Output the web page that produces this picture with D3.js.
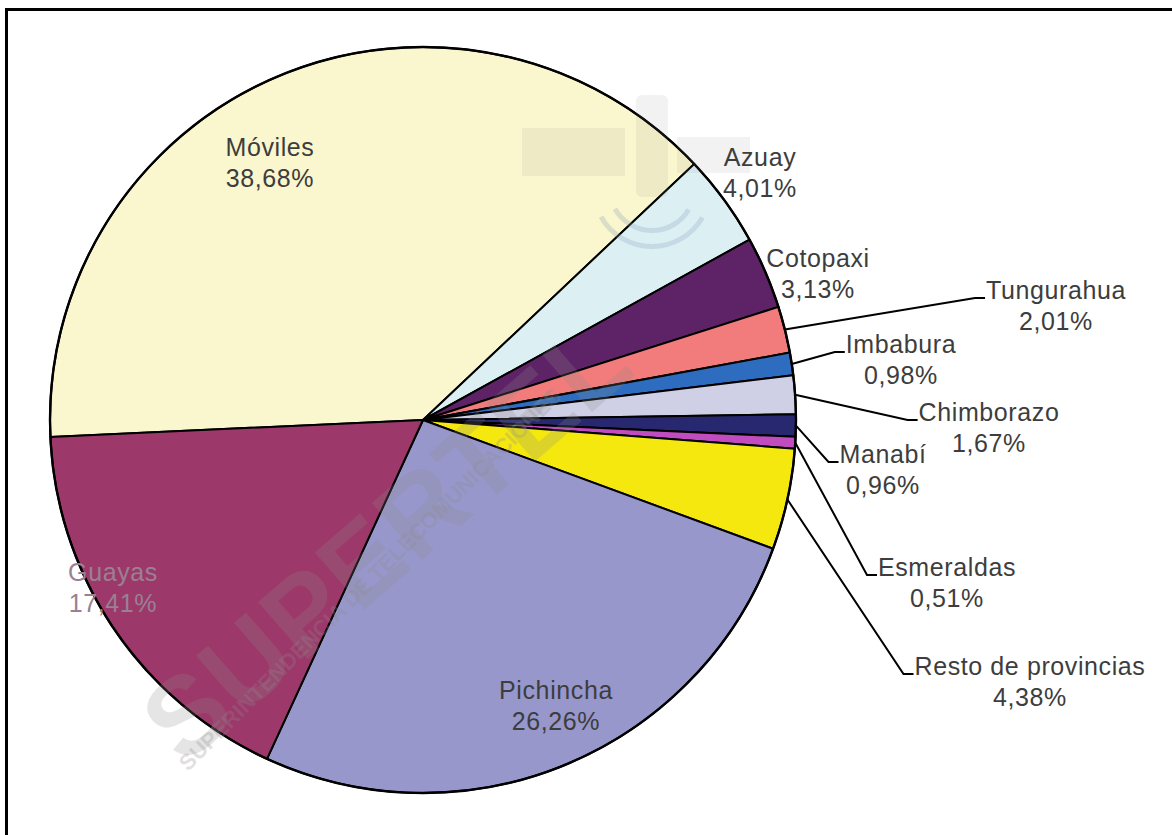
<!DOCTYPE html>
<html>
<head>
<meta charset="utf-8">
<script src="https://cdn.jsdelivr.net/npm/d3@7"></script>
<style>
  html, body { margin: 0; padding: 0; background: #ffffff; }
  svg { display: block; }
</style>
</head>
<body>
<svg id="chart" width="1172" height="835"></svg>
<script>
// ---- data ----
const categories = ["Móviles", "Azuay", "Cotopaxi", "Tungurahua", "Imbabura", "Chimborazo",
                    "Manabí", "Esmeraldas", "Resto de provincias", "Pichincha", "Guayas"];
const shares = [38.68, 4.01, 3.13, 2.01, 0.98, 1.67, 0.96, 0.51, 4.38, 26.26, 17.41];

// ---- styles ----
const sliceColors = ["#FAF6CE", "#DCF0F4", "#5E2366", "#F27B7B", "#2E6CBF", "#CFCFE5",
                     "#27286F", "#C04CC0", "#F4E80F", "#9897CB", "#9D386A"];

// label placement: centre x, baseline of the first line, leader line or not
const labelLayout = {
  "Móviles":             { x: 270,  y: 156, leader: false },
  "Azuay":               { x: 760,  y: 166, leader: false },
  "Cotopaxi":            { x: 818,  y: 267, leader: false },
  "Tungurahua":          { x: 1056, y: 299, leader: true },
  "Imbabura":            { x: 901,  y: 353, leader: true },
  "Chimborazo":          { x: 989,  y: 421, leader: true },
  "Manabí":              { x: 883,  y: 463, leader: true },
  "Esmeraldas":          { x: 947,  y: 576, leader: true },
  "Resto de provincias": { x: 1030, y: 675, leader: true },
  "Pichincha":           { x: 556,  y: 699, leader: false },
  "Guayas":              { x: 113,  y: 581, leader: false }
};
const labelColor = { "Guayas": "#9a8094" };

const cx = 423, cy = 420, R = 373;
const lineGap = 31;
const fontFamily = "'Liberation Sans', Arial, Helvetica, sans-serif";

const svg = d3.select("#chart");

// frame (only top and left edges fall inside the canvas)
svg.append("rect")
  .attr("x", 6.5).attr("y", 9.5)
  .attr("width", 1300).attr("height", 1000)
  .attr("fill", "none").attr("stroke", "#000").attr("stroke-width", 3);

const rows = categories.map((c, i) => ({ name: c, value: shares[i], color: sliceColors[i] }));

const start = 267.4 * Math.PI / 180;
const pie = d3.pie().sort(null).value(d => d.value)
  .startAngle(start).endAngle(start + 2 * Math.PI);
const arcs = pie(rows);

const arc = d3.arc().innerRadius(0).outerRadius(R);

const g = svg.append("g").attr("transform", `translate(${cx},${cy})`);

g.selectAll("path.slice")
  .data(arcs)
  .join("path")
  .attr("class", "slice")
  .attr("d", arc)
  .attr("fill", d => d.data.color)
  .attr("stroke", "#000")
  .attr("stroke-width", 2)
  .attr("stroke-linejoin", "round");

// outer rim
g.append("circle").attr("r", R).attr("fill", "none")
  .attr("stroke", "#000").attr("stroke-width", 2.4);

// ---- faint logo watermark ----
const wm = svg.append("g").attr("pointer-events", "none");
// satellite
const sat = wm.append("g").attr("fill", "#8a8a8a").attr("opacity", 0.1);
sat.append("rect").attr("x", 522).attr("y", 128).attr("width", 103).attr("height", 48);
sat.append("rect").attr("x", 636).attr("y", 95).attr("width", 32).attr("height", 102).attr("rx", 6);
sat.append("rect").attr("x", 677).attr("y", 137).attr("width", 73).attr("height", 36);
const wave = d3.arc();
[40, 56].forEach(r => {
  wm.append("path")
    .attr("transform", "translate(652,188)")
    .attr("d", wave({ innerRadius: r, outerRadius: r + 5, startAngle: 2.1, endAngle: 4.2 }))
    .attr("fill", "#7f97b5").attr("opacity", 0.25);
});
// lettering
wm.append("text")
  .attr("transform", "translate(386,540) rotate(-41)")
  .attr("text-anchor", "middle").attr("dominant-baseline", "central")
  .attr("font-family", fontFamily).attr("font-weight", "bold")
  .attr("font-size", 110).attr("letter-spacing", 2)
  .attr("fill", "#8c8c8c").attr("opacity", 0.22)
  .text("SUPERTEL");
wm.append("text")
  .attr("transform", "translate(188,772) rotate(-45)")
  .attr("text-anchor", "start")
  .attr("font-family", fontFamily).attr("font-weight", "bold")
  .attr("font-size", 22)
  .attr("fill", "#8c8c8c").attr("opacity", 0.26)
  .text("SUPERINTENDENCIA DE TELECOMUNICACIONES");

// ---- labels ----
const fmt = v => v.toFixed(2).replace(".", ",") + "%";
const labels = svg.append("g")
  .attr("font-family", fontFamily)
  .attr("font-size", 25)
  .attr("letter-spacing", 0.6);

arcs.forEach(a => {
  const name = a.data.name;
  const L = labelLayout[name];
  const fill = labelColor[name] || "#3d3d3d";
  const t1 = labels.append("text")
    .attr("x", L.x).attr("y", L.y)
    .attr("text-anchor", "middle").attr("fill", fill)
    .text(name);
  labels.append("text")
    .attr("x", L.x).attr("y", L.y + lineGap)
    .attr("text-anchor", "middle").attr("fill", fill)
    .text(fmt(a.data.value));

  if (L.leader) {
    const w = t1.node().getComputedTextLength();
    const left = L.x - w / 2;
    const mid = (a.startAngle + a.endAngle) / 2;
    const p0 = [cx + R * Math.sin(mid), cy - R * Math.cos(mid)];
    const ly = L.y - 1;
    svg.append("polyline")
      .attr("points", [p0, [left - 11, ly], [left - 1, ly]].map(p => p.join(",")).join(" "))
      .attr("fill", "none").attr("stroke", "#000").attr("stroke-width", 2);
  }
});
</script>
</body>
</html>
